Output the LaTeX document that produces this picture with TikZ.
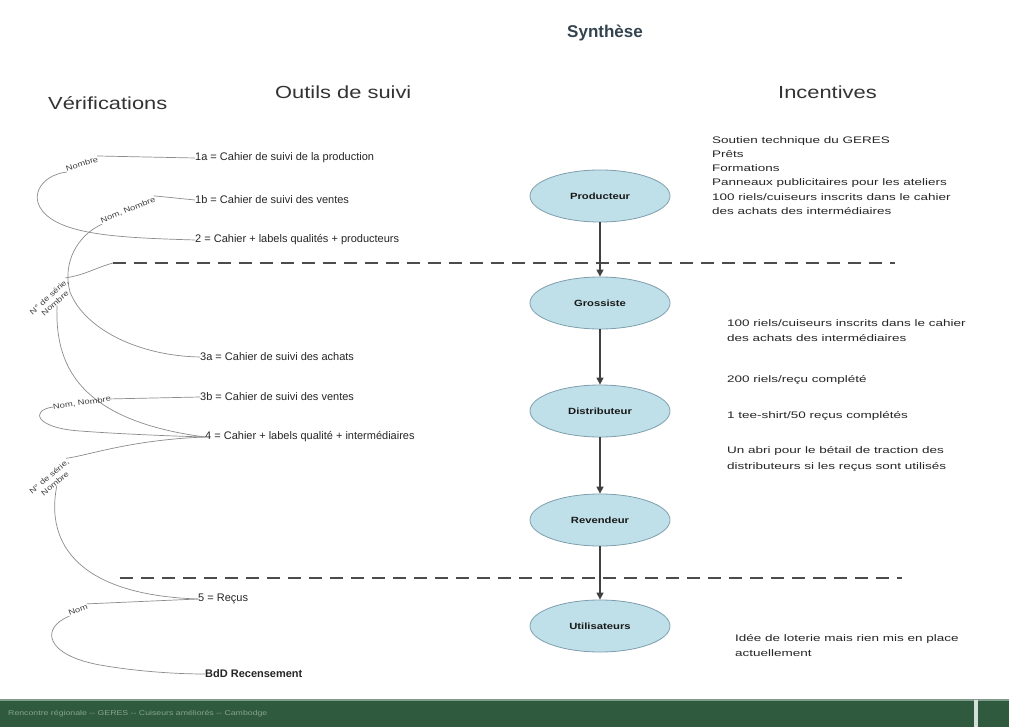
\documentclass[tikz,border=0pt]{standalone}
\usepackage{fontspec}
\setmainfont{Liberation Sans}
\newfontfamily\widefont[FakeStretch=1.25]{Liberation Sans}
\newfontfamily\xwidefont[FakeStretch=1.42]{Liberation Sans}
\usetikzlibrary{shapes.geometric,arrows.meta}
\definecolor{actorfill}{HTML}{BFE0E8}
\definecolor{actordraw}{HTML}{7F9FAE}
\definecolor{titlecol}{HTML}{33434F}
\definecolor{footgreen}{HTML}{2F5A3E}
\definecolor{foottext}{HTML}{86A48E}
\begin{document}
\begin{tikzpicture}[x=1pt,y=-1pt,
  item/.style={anchor=west, font=\fontsize{11}{12}\selectfont, text=black!85, inner sep=0pt},
  head/.style={font=\widefont\fontsize{17.5}{20}\selectfont, text=black!80, inner sep=0pt},
  actor/.style={ellipse, draw=actordraw, line width=0.8pt, fill=actorfill, minimum width=140pt, minimum height=52pt, inner sep=0pt, font=\widefont\bfseries\fontsize{9}{10}\selectfont, text=black!90},
  flow/.style={draw=black!75, line width=1.4pt, -{Triangle[length=7pt,width=7pt]}},
  sep/.style={draw=black!70, line width=2.4pt, dash pattern=on 13pt off 8pt},
  link/.style={draw=black!45, line width=0.7pt},
  tag/.style={font=\widefont\fontsize{7.5}{9}\selectfont, text=black!75, inner sep=0pt, align=center},
  incent/.style={anchor=north west, align=left, font=\xwidefont\fontsize{9.5}{14.3}\selectfont, text=black!85, inner sep=0pt}
]
\useasboundingbox (0,0) rectangle (1009,727);
\fill[white] (0,0) rectangle (1009,727);

% titles
\node[font=\bfseries\fontsize{17}{20}\selectfont, text=titlecol] (title) at (605,33) {Synthèse};
\node[head, anchor=west] (hver) at (48,103) {Vérifications};
\node[head, anchor=west] (hout) at (275,92) {Outils de suivi};
\node[head, anchor=west] (hinc) at (778,92) {Incentives};

% separators
\coordinate (s1a) at (113,263); \coordinate (s1b) at (895,263);
\coordinate (s2a) at (120,578); \coordinate (s2b) at (902,578);
\draw[sep] (s1a) -- (s1b);
\draw[sep] (s2a) -- (s2b);

% tools
\node[item] (t1a) at (195,158) {1a = Cahier de suivi de la production};
\node[item] (t1b) at (195,200) {1b = Cahier de suivi des ventes};
\node[item] (t2)  at (195,240) {2 = Cahier + labels qualités + producteurs};
\node[item] (t3a) at (200,357) {3a = Cahier de suivi des achats};
\node[item] (t3b) at (200,397) {3b = Cahier de suivi des ventes};
\node[item] (t4)  at (205,437) {4 = Cahier + labels qualité + intermédiaires};
\node[item] (t5)  at (198,599) {5 = Reçus};
\node[item, font=\bfseries\fontsize{11}{12}\selectfont] (tb) at (205,674) {BdD Recensement};

% verification links
\node[tag, rotate=18] (v1) at (82,164) {Nombre};
\draw[link] (t1a.west) -- (v1.north east);
\draw[link] (v1.south west) .. controls (40,175) and (25,200) .. (50,218) .. controls (75,236) and (130,238) .. (t2.west);

\node[tag, rotate=22] (v2) at (128,210) {Nom, Nombre};
\draw[link] (t1b.west) -- (v2.north east);
\draw[link] (v2.south west) .. controls (78,235) and (62,262) .. (70,292) .. controls (85,330) and (140,356) .. (t3a.west);

\node[tag, rotate=42] (v3) at (52,300) {N° de série,\\Nombre};
\draw[link] (s1a) .. controls (95,268) and (85,275) .. (v3.north east);
\draw[link] (v3.south) .. controls (55,362) and (75,420) .. (t4.west);

\node[tag, rotate=8] (v4) at (82,403) {Nom, Nombre};
\draw[link] (t3b.west) -- (v4.east);
\draw[link] (v4.west) .. controls (30,410) and (35,428) .. (80,431) .. controls (120,434) and (170,436) .. (t4.west);

\node[tag, rotate=40] (v5) at (52,480) {N° de série,\\Nombre};
\draw[link] (t4.west) .. controls (130,440) and (90,455) .. (v5.north east);
\draw[link] (v5.south) .. controls (45,545) and (80,595) .. (t5.west);

\node[tag, rotate=20] (v6) at (78,610) {Nom};
\draw[link] (t5.west) -- (v6.north east);
\draw[link] (v6.south west) .. controls (40,628) and (45,655) .. (100,665) .. controls (140,672) and (180,674) .. (tb.west);

% actors
\node[actor] (prod) at (600,196) {Producteur};
\node[actor] (gros) at (600,303) {Grossiste};
\node[actor] (dist) at (600,411) {Distributeur};
\node[actor] (rev)  at (600,520) {Revendeur};
\node[actor] (util) at (600,626) {Utilisateurs};
\draw[flow] (prod) -- (gros);
\draw[flow] (gros) -- (dist);
\draw[flow] (dist) -- (rev);
\draw[flow] (rev) -- (util);

% incentives
\node[incent] (i1) at (712,136) {Soutien technique du GERES\\Prêts\\Formations\\Panneaux publicitaires pour les ateliers\\100 riels/cuiseurs inscrits dans le cahier\\des achats des intermédiaires};
\node[incent, font=\xwidefont\fontsize{9.5}{15}\selectfont] (i2) at (727,319) {100 riels/cuiseurs inscrits dans le cahier\\des achats des intermédiaires};
\node[incent] (i3) at (727,375) {200 riels/reçu complété};
\node[incent] (i4) at (727,411) {1 tee-shirt/50 reçus complétés};
\node[incent, font=\xwidefont\fontsize{9.5}{16}\selectfont] (i5) at (727,446) {Un abri pour le bétail de traction des\\distributeurs si les reçus sont utilisés};
\node[incent, font=\xwidefont\fontsize{9.5}{15}\selectfont] (i6) at (735,634) {Idée de loterie mais rien mis en place\\actuellement};

% footer
\fill[footgreen] (0,700) rectangle (1009,727);
\fill[footgreen!60!white] (0,699) rectangle (1009,701);
\fill[white!80!footgreen] (974,700) rectangle (978,727);
\node[anchor=west, font=\widefont\fontsize{7}{8}\selectfont, text=foottext, inner sep=0pt] (foot) at (8,714) {Rencontre régionale -- GERES -- Cuiseurs améliorés -- Cambodge};
\end{tikzpicture}
\end{document}
